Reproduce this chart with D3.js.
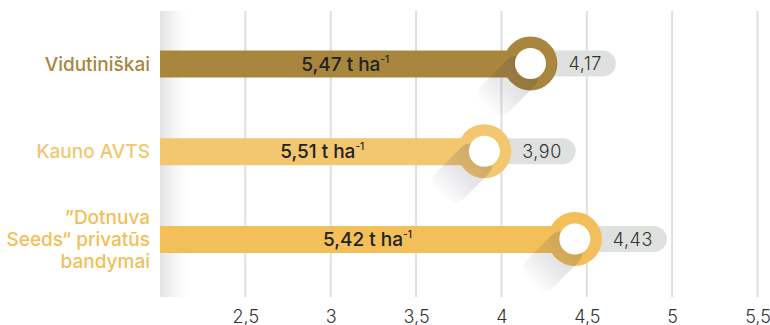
<!DOCTYPE html>
<html>
<head>
<meta charset="utf-8">
<script src="https://cdn.jsdelivr.net/npm/d3@7"></script>
<style>
  body { margin: 0; background: #fff; }
  svg { display: block; font-family: Inter, "Open Sans", sans-serif; }
</style>
</head>
<body>
<div id="root"></div>
<script>
// Data
var categories = ["Vidutiniškai", "Kauno AVTS", "\u201DDotnuva Seeds\u201C privatūs bandymai"];
var labelLines = [["Vidutiniškai"], ["Kauno AVTS"], ["\u201DDotnuva", "Seeds\u201C privatūs", "bandymai"]];
var values = [4.17, 3.90, 4.43];
var yields = ["5,47", "5,51", "5,42"];
var tickValues = [2.5, 3, 3.5, 4, 4.5, 5, 5.5];
var colors = ["#a8863e", "#f3c670", "#f2bf58"];

var width = 770, height = 325;

var svg = d3.select("#root")
  .append("svg")
  .attr("width", width)
  .attr("height", height);

var x = d3.scaleLinear()
  .domain([2, 5.5])
  .range([160, 757.5]);

var y = d3.scalePoint()
  .domain(categories)
  .range([63.5, 239]);

var defs = svg.append("defs");

// left axis shadow
var axisGrad = defs.append("linearGradient")
  .attr("id", "axisGrad")
  .attr("x1", "0%").attr("x2", "100%")
  .attr("y1", "0%").attr("y2", "0%");
axisGrad.append("stop").attr("offset", "0%").attr("stop-color", "#e2e2e2").attr("stop-opacity", 1);
axisGrad.append("stop").attr("offset", "35%").attr("stop-color", "#f1f1f1").attr("stop-opacity", 1);
axisGrad.append("stop").attr("offset", "100%").attr("stop-color", "#ffffff").attr("stop-opacity", 0);

// long shadow gradient
var shadowGrad = defs.append("linearGradient")
  .attr("id", "shadowGrad")
  .attr("x1", "0%").attr("x2", "100%")
  .attr("y1", "0%").attr("y2", "0%");
shadowGrad.append("stop").attr("offset", "0%").attr("stop-color", "#30304a").attr("stop-opacity", 0.2);
shadowGrad.append("stop").attr("offset", "55%").attr("stop-color", "#30304a").attr("stop-opacity", 0.11);
shadowGrad.append("stop").attr("offset", "100%").attr("stop-color", "#30304a").attr("stop-opacity", 0.0);

// Gridlines
svg.append("g")
  .selectAll("line")
  .data(tickValues)
  .enter().append("line")
  .attr("x1", function (d) { return x(d); })
  .attr("x2", function (d) { return x(d); })
  .attr("y1", 11)
  .attr("y2", 297)
  .attr("stroke", "#dde0dd")
  .attr("stroke-width", 2);

svg.append("rect")
  .attr("x", x(2))
  .attr("y", 11)
  .attr("width", 32)
  .attr("height", 286)
  .attr("fill", "url(#axisGrad)");

// X axis labels
var xAxis = svg.append("g")
  .attr("transform", "translate(0,303)")
  .call(d3.axisBottom(x)
    .tickValues(tickValues)
    .tickSize(0)
    .tickFormat(function (d) { return String(d).replace(".", ","); }));
xAxis.select(".domain").remove();
xAxis.selectAll("text")
  .attr("y", 19.5)
  .attr("dy", null)
  .attr("font-family", "Inter, sans-serif")
  .attr("font-size", 18)
  .attr("font-weight", 300)
  .attr("fill", "#333");

// Rows
var rows = svg.selectAll(".row")
  .data(categories)
  .enter().append("g")
  .attr("class", "row");

rows.each(function (c, i) {
  var g = d3.select(this);
  var cy = y(c);
  var cx = x(values[i]);

  // value label first, to measure
  var valText = g.append("text")
    .attr("x", cx + 38)
    .attr("y", cy + 6.5)
    .attr("font-size", 18)
    .attr("font-weight", 300)
    .attr("letter-spacing", 0.5)
    .attr("fill", "#333")
    .text(String(values[i].toFixed(2)).replace(".", ","));
  var tw = valText.node().getComputedTextLength();

  g.insert("rect", "text")
    .attr("x", cx)
    .attr("y", cy - 13)
    .attr("width", (cx + 38 + tw + 14) - cx)
    .attr("height", 26)
    .attr("rx", 13)
    .attr("fill", "#dfe1df");

  // bar
  g.append("rect")
    .attr("x", x(2))
    .attr("y", cy - 13)
    .attr("width", cx - x(2))
    .attr("height", 27)
    .attr("fill", colors[i]);

  // outer ring
  g.append("circle")
    .attr("cx", cx)
    .attr("cy", cy)
    .attr("r", 27)
    .attr("fill", colors[i]);

  // long shadow
  g.append("g")
    .attr("transform", "translate(" + cx + "," + cy + ") rotate(135)")
    .append("rect")
    .attr("x", 0)
    .attr("y", -19)
    .attr("width", 63)
    .attr("height", 38)
    .attr("rx", 14)
    .attr("fill", "url(#shadowGrad)");

  // inner hole
  g.append("circle")
    .attr("cx", cx)
    .attr("cy", cy)
    .attr("r", 15.5)
    .attr("fill", "#fff");

  // bar label
  var bl = g.append("text")
    .attr("x", (x(2) + cx) / 2)
    .attr("y", cy + 7)
    .attr("text-anchor", "middle")
    .attr("font-size", 19)
    .attr("font-weight", 500)
    .attr("fill", "#222");
  bl.append("tspan").text(yields[i] + " t ha");
  bl.append("tspan").attr("dy", -8).attr("font-size", 10).text("-1");

  // category label
  var lines = labelLines[i];
  var lh = 22;
  var startY = cy + 7 - (lines.length - 1) / 2 * lh;
  var cl = g.append("text")
    .attr("text-anchor", "end")
    .attr("font-size", 19)
    .attr("font-weight", 500)
    .attr("fill", colors[i]);
  lines.forEach(function (l, k) {
    cl.append("tspan")
      .attr("x", 150)
      .attr("y", startY + k * lh)
      .text(l);
  });
});
</script>
</body>
</html>
